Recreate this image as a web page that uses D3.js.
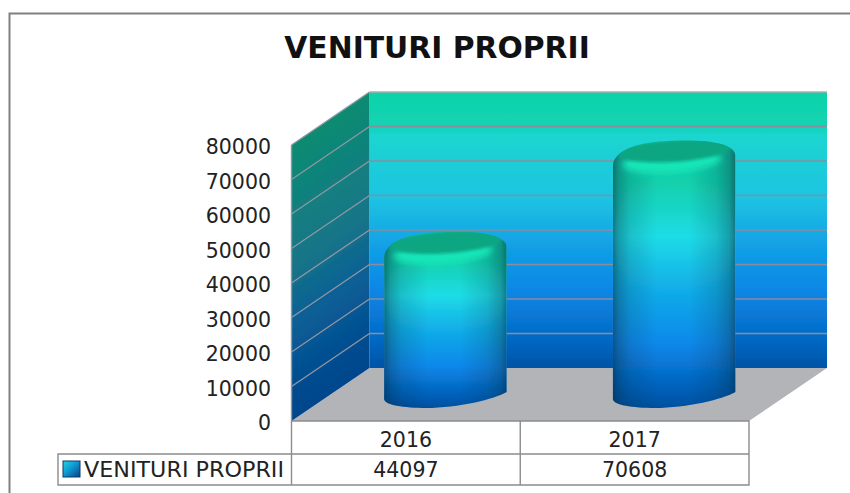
<!DOCTYPE html>
<html><head><meta charset="utf-8">
<script src="https://cdn.jsdelivr.net/npm/d3@7/dist/d3.min.js"></script>
<style>html,body{margin:0;padding:0;background:#fff}svg{display:block}text{font-family:"DejaVu Sans",Verdana,sans-serif;fill:#222}</style>
</head><body><svg id="c" width="850" height="493"></svg>
<script>
const chartTitle = "VENITURI PROPRII";
const seriesName = "VENITURI PROPRII";
const categories = ["2016", "2017"];
const seriesValues = [44097, 70608];
const yTicks = [0, 10000, 20000, 30000, 40000, 50000, 60000, 70000, 80000];

const svg = d3.select("#c");
const defs = svg.append("defs");
const frontX = 291.5, frontR = 749, depthX = 78, depthY = 53, frontBottom = 421, frontTop = 145;
const yFront = d3.scaleLinear().domain([0, 80000]).range([frontBottom, frontTop]);
const yBack = v => yFront(v) - depthY;
const x = d3.scaleBand().domain(categories).range([frontX, frontR]);
const labelSize = 20.5;

function grad(id, stops, attrs) {
  const g = defs.append("linearGradient").attr("id", id);
  Object.entries(attrs).forEach(([k, v]) => g.attr(k, v));
  stops.forEach(s => g.append("stop").attr("offset", s[0]).attr("stop-color", s[1]).attr("stop-opacity", s[2] === undefined ? 1 : s[2]));
}
grad("wall", [[0,"#0dd3a8"],[0.12,"#14d2b4"],[0.16,"#1bd5cf"],[0.38,"#1fc4e2"],[0.55,"#12a2e6"],[0.72,"#0a86e6"],[0.88,"#056cc8"],[1,"#0253a6"]],
  {gradientUnits:"userSpaceOnUse",x1:0,x2:0,y1:yBack(80000),y2:yBack(0)});
grad("side", [[0,"#0a8c70"],[0.25,"#127f80"],[0.45,"#157488"],[0.65,"#0a5f96"],[0.85,"#044f90"],[1,"#02458c"]],
  {gradientUnits:"userSpaceOnUse",x1:0,x2:0,y1:yFront(80000),y2:yFront(0),
   gradientTransform:`translate(${frontX},0) matrix(1,${-depthY/depthX},0,1,0,0) translate(${-frontX},0)`});
grad("body", [[0,"#10cba6"],[0.16,"#12d0ac"],[0.36,"#1fdce6"],[0.55,"#12aee8"],[0.76,"#0a88ea"],[0.92,"#0462bc"],[1,"#034f9e"]],
  {x1:0,x2:0,y1:0,y2:1});
grad("shade", [[0,"#06283c",0.55],[0.05,"#06283c",0.34],[0.14,"#06283c",0.16],[0.36,"#06283c",0],[0.62,"#06283c",0],[0.84,"#06283c",0.16],[0.95,"#06283c",0.34],[1,"#06283c",0.55]],
  {x1:0,x2:1,y1:0,y2:0});
grad("swatch", [[0,"#25d3dc"],[0.45,"#0f9ad4"],[1,"#0a3f80"]], {x1:0,x2:1,y1:0,y2:1});
const blur = (id,s)=>defs.append("filter").attr("id",id).attr("x","-20%").attr("y","-40%").attr("width","140%").attr("height","180%")
  .append("feGaussianBlur").attr("stdDeviation",s);
blur("b3",3); blur("b2",1.6); blur("b05",0.55);

// outer frame (open at right and bottom, cropped in the source)
svg.append("path").attr("d","M9.5 493V13.5H850").attr("fill","none").attr("stroke","#808080").attr("stroke-width",2);

svg.append("text").attr("x",437).attr("y",58).attr("text-anchor","middle")
  .attr("font-size",29.8).attr("font-weight",700).style("fill","#111").text(chartTitle);

const plot = svg.append("g").attr("filter","url(#b05)");
const backL = frontX + depthX, backR = frontR + depthX;
// floor
plot.append("path").attr("d",`M${frontX} ${frontBottom}L${backL} ${yBack(0)}H${backR}L${frontR} ${frontBottom}Z`).attr("fill","#b2b4b7");
// back wall
plot.append("rect").attr("x",backL).attr("y",yBack(80000)).attr("width",backR-backL).attr("height",yBack(0)-yBack(80000)).attr("fill","url(#wall)");
// side wall
plot.append("path").attr("d",`M${frontX} ${yFront(80000)}L${backL} ${yBack(80000)}V${yBack(0)}L${frontX} ${frontBottom}Z`).attr("fill","url(#side)");
// gridlines
plot.selectAll("path.g").data(yTicks.slice(1)).join("path").attr("class","g")
  .attr("d",d=>`M${frontX} ${yFront(d)}L${backL} ${yBack(d)}`).attr("fill","none").attr("stroke","#8f98a4").attr("stroke-width",1.3);
plot.selectAll("path.h").data(yTicks.slice(1)).join("path").attr("class","h")
  .attr("d",d=>`M${backL} ${yBack(d)}H${backR}`).attr("fill","none").attr("stroke",d=>d===80000?"#a9aeb0":"#8a8d9c").attr("stroke-width",1.6);
plot.append("path").attr("d",`M${frontX} ${yFront(80000)}V${frontBottom}`).attr("fill","none").attr("stroke","#8f969c").attr("stroke-width",1.4);

// cylinders
const barW = 122.5, barDx = 39.5, barDy = 23;
categories.forEach((c,i)=>{
  const v = seriesValues[i];
  const x0 = x(c) + x.bandwidth()/2 + barDx - barW/2, x1 = x0 + barW;
  const cy = yFront(v) - barDy, base = yFront(0) - barDy;
  const d = `M${x0} ${cy+12}C${x0} ${cy+2} ${x0+10} ${cy-14} ${x0+72} ${cy-14}`
    + `C${x1-22} ${cy-14} ${x1} ${cy-10} ${x1} ${cy+2}`
    + `V${base-6}C${x1-12} ${base+1} ${x0+74} ${base+10} ${x0+42} ${base+10}`
    + `C${x0+20} ${base+10} ${x0} ${base+7} ${x0} ${base+1}Z`;
  const clip = defs.append("clipPath").attr("id","clip"+i);
  clip.append("path").attr("d",d);
  const g = plot.append("g");
  g.append("path").attr("d",d).attr("fill","url(#body)");
  const cl = g.append("g").attr("clip-path",`url(#clip${i})`);
  cl.append("rect").attr("x",x0).attr("y",cy-16).attr("width",barW).attr("height",base-cy+28).attr("fill","url(#shade)");
  // lit shoulder and darker top face
  const mx = (x0+x1)/2, rot = `rotate(-4 ${mx} ${cy})`;
  cl.append("ellipse").attr("cx",mx-3).attr("cy",cy+7).attr("rx",barW/2-12).attr("ry",11).attr("transform",rot)
    .attr("fill","#12e6b8").attr("filter","url(#b3)");
  cl.append("ellipse").attr("cx",mx+1).attr("cy",cy-3.5).attr("rx",barW/2-5).attr("ry",11).attr("transform",rot)
    .attr("fill","#0ba682").attr("filter","url(#b2)");
});

// value axis
const axis = d3.axisLeft(yFront).tickValues(yTicks).tickSize(0).tickPadding(0).tickFormat(d3.format("d"));
const ag = svg.append("g").attr("transform","translate(271,2)").call(axis);
ag.select(".domain").remove();
ag.selectAll("text").attr("font-size",labelSize).attr("font-family",null);

// data table
const rowTop = 421, rowMid = 454, rowBot = 485, tableL = 58;
const table = svg.append("g").attr("fill","none").attr("stroke","#8c8c8c").attr("stroke-width",1.4);
table.append("path").attr("d",`M${frontX} ${rowTop}H${frontR}V${rowBot}H${tableL}V${rowMid}H${frontR}`);
table.selectAll("path.v").data([frontX,...categories.slice(1).map(c=>x(c)),]).join("path").attr("class","v")
  .attr("d",d=>`M${d} ${rowTop}V${rowBot}`);
const xAxis = d3.axisBottom(x).tickSize(0).tickPadding(0);
const xg = svg.append("g").attr("transform",`translate(0,${rowTop+11})`).call(xAxis);
xg.select(".domain").remove();
xg.selectAll("text").attr("font-size",labelSize).attr("font-family",null);
svg.selectAll("text.val").data(seriesValues).join("text").attr("class","val")
  .attr("x",(d,i)=>x(categories[i])+x.bandwidth()/2).attr("y",477).attr("text-anchor","middle").attr("font-size",labelSize).text(d=>d);
svg.append("rect").attr("x",63).attr("y",461).attr("width",17).attr("height",16).attr("fill","url(#swatch)").attr("stroke","#0d3a6e").attr("stroke-width",1);
svg.append("text").attr("x",84).attr("y",477).attr("font-size",labelSize).attr("textLength",200).attr("lengthAdjust","spacingAndGlyphs").text(seriesName);
</script></body></html>
